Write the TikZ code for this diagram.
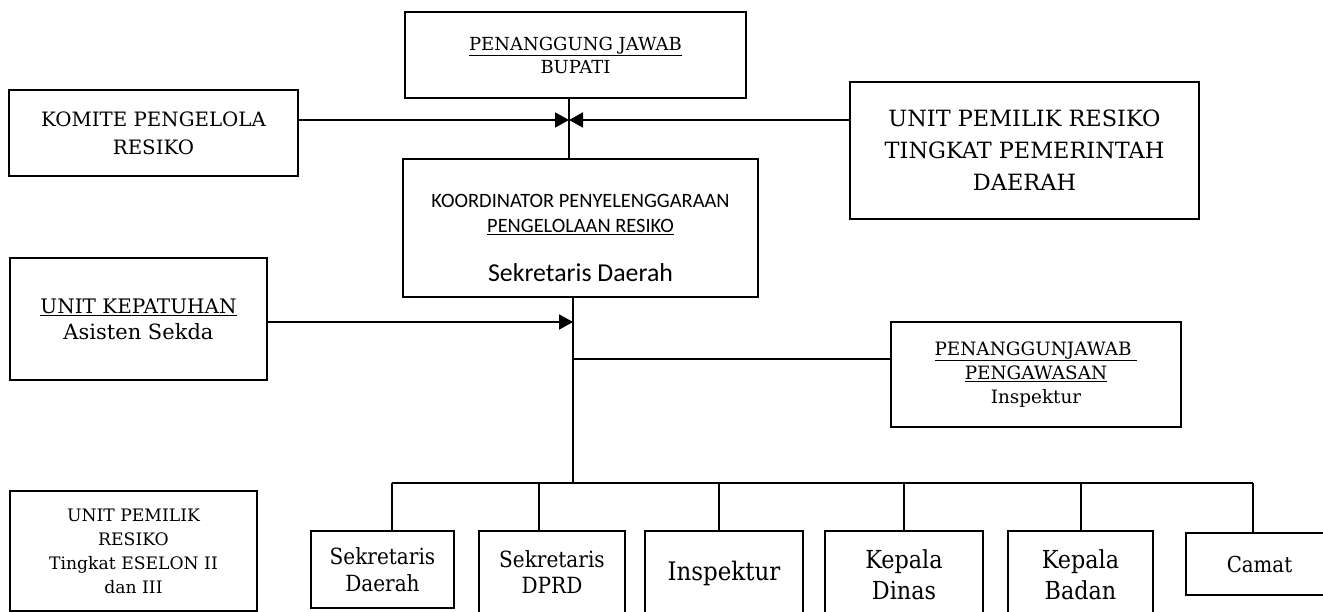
\documentclass[tikz,border=0pt]{standalone}
\usepackage{fontspec}
\setmainfont{DejaVu Serif}
\newfontfamily\bk{DejaVu Serif}
\newfontfamily\cb{DejaVu Serif Condensed}
\newfontfamily\cl{Carlito}
\usetikzlibrary{arrows.meta}
\newcommand\fs[2]{\fontsize{#1}{#2}\selectfont}
\tikzset{
  box/.style={draw, line width=2.8pt, inner sep=0pt, align=center, minimum width=#1},
  conn/.style={line width=1.9pt},
  arr/.style={conn, -{Triangle[length=14pt,width=15pt]}},
}
\begin{document}
\begin{tikzpicture}[x=1pt,y=-1pt]
\useasboundingbox (0,0) rectangle (1323,612);
\clip (0,0) rectangle (1323,612);
% top boxes
\node[box=341pt, minimum height=86pt, font=\bk\fs{18}{23}] (pj) at (575.5,55) {\underline{PENANGGUNG JAWAB}\\BUPATI};
\node[box=289pt, minimum height=86pt, font=\bk\fs{19.8}{28}] (kom) at (153.5,133) {KOMITE PENGELOLA\\RESIKO};
\node[box=349pt, minimum height=137pt, font=\bk\fs{22.4}{32}] (upr) at (1024.5,150.5) {UNIT PEMILIK RESIKO\\TINGKAT PEMERINTAH\\DAERAH};
\node[box=355pt, minimum height=138pt] (koor) at (580.5,228) {};
\node[anchor=base, inner sep=0pt, font=\cl\fs{20.4}{24}] (koor1) at (580.5,208) {KOORDINATOR PENYELENGGARAAN};
\node[anchor=base, inner sep=0pt, font=\cl\fs{20.4}{24}] (koor2) at (580.5,233) {\underline{PENGELOLAAN RESIKO}};
\node[anchor=base, inner sep=0pt, font=\cl\fs{25.8}{30}] (koor3) at (580.5,282) {Sekretaris Daerah};
\node[box=257pt, minimum height=122pt, font=\bk\fs{20}{26}] (kep) at (138.5,319) {\underline{UNIT KEPATUHAN}\\{\fs{21}{26}Asisten Sekda}};
\node[box=290pt, minimum height=105pt, font=\bk\fs{18.4}{24}] (peng) at (1036,374.5) {\underline{PENANGGUNJAWAB\ }\\\underline{PENGAWASAN}\\Inspektur};
\node[box=247pt, minimum height=120pt, font=\bk\fs{17.2}{24}] (upb) at (133.5,551) {UNIT PEMILIK\\RESIKO\\Tingkat ESELON II\\dan III};
% bottom boxes
\node[box=143pt, minimum height=77pt, font=\cb\fs{22.3}{27}] (sd) at (382.5,569.5) {Sekretaris\\Daerah};
\node[box=146pt, minimum height=82pt, font=\cb\fs{22.3}{26}] (dprd) at (552,572) {Sekretaris\\DPRD};
\node[box=158pt, minimum height=84pt, font=\cb\fs{25.5}{28}] (ins) at (724,573) {Inspektur};
\node[box=158pt, minimum height=88pt, font=\cb\fs{24.8}{31}] (kd) at (904,575) {Kepala\\Dinas};
\node[box=145pt, minimum height=88pt, font=\cb\fs{24.8}{31}] (kb) at (1080.5,575) {Kepala\\Badan};
\node[box=147pt, minimum height=62pt, font=\cb\fs{22}{26}] (cam) at (1259.5,564) {Camat};
% junctions
\coordinate (j1) at (569,120);
\coordinate (j2) at (573,322);
\coordinate (j3) at (573,359);
\coordinate (bus) at (573,483);
\coordinate (b1) at (392,483);
\coordinate (b2) at (539,483);
\coordinate (b3) at (719,483);
\coordinate (b4) at (904,483);
\coordinate (b5) at (1081,483);
\coordinate (b6) at (1253,483);
% connectors
\draw[conn] (pj.south -| j1) -- (koor.north -| j1);
\draw[arr] (kom.east |- j1) -- (j1);
\draw[arr] (upr.west |- j1) -- (j1);
\draw[conn] (koor.south -| j2) -- (bus);
\draw[arr] (kep.east |- j2) -- (j2);
\draw[conn] (j3) -- (peng.west |- j3);
\draw[conn] (b1) -- (b6);
\draw[conn] (b1) -- (b1 |- sd.north);
\draw[conn] (b2) -- (b2 |- dprd.north);
\draw[conn] (b3) -- (b3 |- ins.north);
\draw[conn] (b4) -- (b4 |- kd.north);
\draw[conn] (b5) -- (b5 |- kb.north);
\draw[conn] (b6) -- (b6 |- cam.north);
\end{tikzpicture}
\end{document}
